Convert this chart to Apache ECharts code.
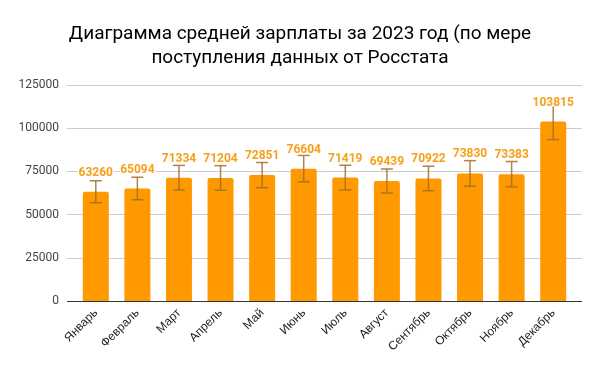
<!DOCTYPE html>
<html><head><meta charset="utf-8">
<script src="https://cdn.jsdelivr.net/npm/echarts@6/dist/echarts.min.js"></script>
<style>html,body{margin:0;padding:0;background:#fff}#c{width:600px;height:371px}</style>
</head><body><div id="c"></div>
<script>
const titleText = 'Диаграмма средней зарплаты за 2023 год (по мере\nпоступления данных от Росстата';
const months = ['Январь','Февраль','Март','Апрель','Май','Июнь','Июль','Август','Сентябрь','Октябрь','Ноябрь','Декабрь'];
const salary = [63260, 65094, 71334, 71204, 72851, 76604, 71419, 69439, 70922, 73830, 73383, 103815];
const errorPercent = 10;
const yTicks = [0, 25000, 50000, 75000, 100000, 125000];

const chart = echarts.init(document.getElementById('c'), null, {renderer: 'canvas'});
const yMin = yTicks[0], yMax = yTicks[yTicks.length - 1], yStep = yTicks[1] - yTicks[0];
const errColor = 'rgba(160,110,40,0.85)';

chart.setOption({
  animation: false,
  backgroundColor: '#fff',
  title: {
    text: titleText, left: 'center', top: 17,
    textStyle: {fontFamily: 'Roboto', fontSize: 19, fontWeight: 'normal', color: '#000', lineHeight: 24}
  },
  grid: [
    {left: 67, right: 18, top: 85, bottom: 70},
    {left: 75, right: 26, top: 85, bottom: 70}
  ],
  xAxis: [
    {gridIndex: 0, type: 'category', data: months, show: false},
    {gridIndex: 1, type: 'category', data: months,
      axisLine: {show: false}, axisTick: {show: false},
      axisLabel: {rotate: 45, margin: 10, fontFamily: 'Liberation Sans, Arial', fontSize: 12, color: '#222', interval: 0}}
  ],
  yAxis: [
    {gridIndex: 0, type: 'value', min: yMin, max: yMax, interval: yStep,
      axisLine: {show: false}, axisTick: {show: false},
      splitLine: {lineStyle: {color: '#ccc', width: 1}},
      axisLabel: {margin: 8, fontFamily: 'Roboto', fontSize: 12, color: '#444', formatter: v => String(v)}},
    {gridIndex: 1, type: 'value', min: yMin, max: yMax, interval: yStep, show: false, splitLine: {show: false}}
  ],
  series: [
    {type: 'line', xAxisIndex: 0, yAxisIndex: 0, data: [],
      markLine: {silent: true, symbol: 'none', label: {show: false}, lineStyle: {color: '#333', width: 1.2, type: 'solid'}, data: [{yAxis: 0}]}},
    {type: 'bar', xAxisIndex: 1, yAxisIndex: 1, data: salary, barWidth: 26, z: 2,
      itemStyle: {color: '#ff9900', borderRadius: [2, 2, 0, 0]}},
    {type: 'custom', xAxisIndex: 1, yAxisIndex: 1, z: 3,
      data: salary.map((v, i) => [i, v * (1 - errorPercent / 100), v * (1 + errorPercent / 100)]),
      renderItem: function (params, api) {
        const lo = api.coord([api.value(0), api.value(1)]);
        const hi = api.coord([api.value(0), api.value(2)]);
        const hw = 6;
        const st = {stroke: errColor, lineWidth: 1.5};
        return {type: 'group', children: [
          {type: 'line', shape: {x1: lo[0], y1: lo[1], x2: hi[0], y2: hi[1]}, style: st},
          {type: 'line', shape: {x1: lo[0] - hw, y1: lo[1], x2: lo[0] + hw, y2: lo[1]}, style: st},
          {type: 'line', shape: {x1: hi[0] - hw, y1: hi[1], x2: hi[0] + hw, y2: hi[1]}, style: st}
        ]};
      }},
    {type: 'bar', xAxisIndex: 1, yAxisIndex: 1, data: salary, barWidth: 26, barGap: '-100%', z: 5,
      itemStyle: {color: 'rgba(0,0,0,0)'},
      label: {show: true, position: 'top', distance: 13, fontFamily: 'Roboto', fontWeight: 'bold', fontSize: 12,
        color: '#f6a01a', textBorderColor: '#fff', textBorderWidth: 3}}
  ]
});
</script></body></html>
